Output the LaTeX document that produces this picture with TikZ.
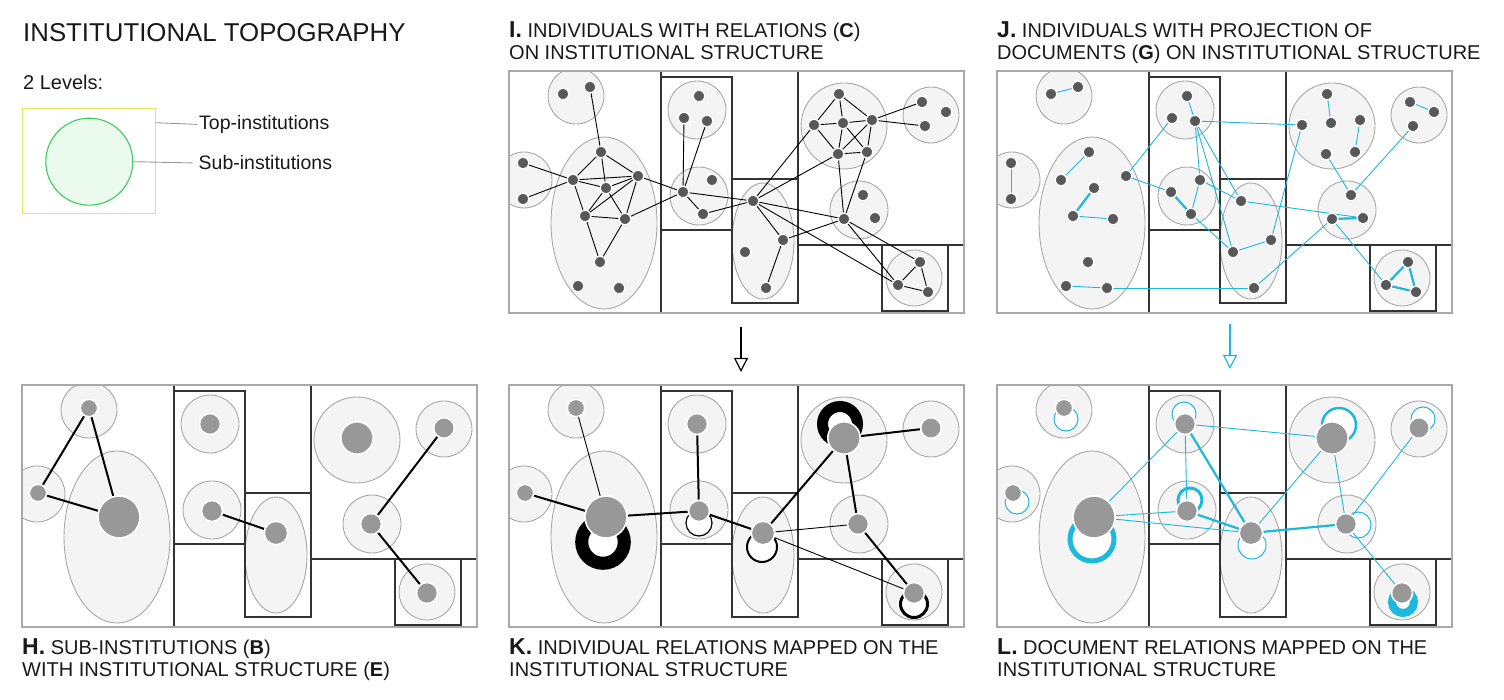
\documentclass[tikz,border=0pt]{standalone}
\usepackage{fontspec}
\setmainfont{Liberation Sans}
\usepackage{tikz}
\usetikzlibrary{arrows.meta,positioning}

\pgfdeclarelayer{back}
\pgfdeclarelayer{edges}
\pgfsetlayers{back,edges,main}

\definecolor{cyanrel}{RGB}{29,184,222}
\definecolor{subfill}{RGB}{244,244,244}
\definecolor{subline}{RGB}{168,168,168}
\definecolor{hubgrey}{RGB}{152,152,152}
\definecolor{persgrey}{RGB}{88,88,88}
\definecolor{legyellow}{RGB}{228,228,95}
\definecolor{leggreen}{RGB}{60,205,90}
\definecolor{legfill}{RGB}{234,250,236}

% the institutional structure, same in every panel
\newcommand{\instgrid}{%
  \begin{pgfonlayer}{back}
    \begin{scope}
      \clip (0,0) rectangle (455,242);
      \foreach \x/\y/\rad in {67/25/28,15/109/28,188/39/29,190/125/29,335/55/43,422/44/28,350/139/29,405/207/28}
        \draw[subinst] (\x,\y) circle (\rad);
      \draw[subinst] (95,152) ellipse (53 and 86);
      \draw[subinst] (254,170) ellipse (31 and 58);
    \end{scope}
    \draw[instline] (152,0) -- (152,242) (152,6) rectangle (223,159)
      (223,108) rectangle (289,232) (289,0) -- (289,108)
      (289,174) -- (455,174) (373,174) rectangle (439,240);
    \draw[outerbox] (0,0) rectangle (455,242);
  \end{pgfonlayer}}

% individuals
\newcommand{\people}{%
  \foreach \n/\x/\y in {a1/54/23,a2/81/16,b1/14/92,b2/14/128,
      m1/92/81,m2/64/109,m3/97/117,m4/129/105,m5/76/145,m6/116/148,m7/91/191,m8/69/215,m9/110/217,
      n1/190/25,n2/175/47,n3/198/50,q1/174/121,q2/203/109,q3/194/143,
      r1/244/130,r2/274/169,r3/236/181,r4/257/217,
      s1/330/23,s2/305/54,s3/334/52,s4/363/49,s5/329/83,s6/358/81,
      t1/413/31,t2/437/41,t3/416/55,u1/354/124,u2/335/148,u3/366/147,
      v1/411/191,v2/389/214,v3/419/221}
    \node[indiv] (\n) at (\x,\y) {};}

% sub-institutions as single nodes
\newcommand{\hubs}{%
  \foreach \n/\x/\y/\rad in {c1/67/23/8.7,c2/16/108/8.7,e1/97/132/21,c3/188/39/10.5,c4/190/126/10.5,
      e2/254/148/11.7,c5/335/53/16.2,c6/422/43/10.3,c7/349/139/10.5,c8/405/208/10.5}
    \node[hub,minimum size=2*\rad] (\n) at (\x,\y) {};}

\newcommand{\biglet}[1]{{\fontsize{23}{23}\selectfont\bfseries #1}}

\begin{document}
\begin{tikzpicture}[x=1pt,y=-1pt]

\tikzstyle{outerbox}=[draw=subline,line width=1.4pt]
\tikzstyle{instline}=[draw=black!80,line width=1.1pt]
\tikzstyle{subinst}=[draw=subline,fill=subfill,line width=0.9pt]
\tikzstyle{indiv}=[circle,fill=persgrey,draw=white,line width=1.3pt,inner sep=0pt,minimum size=11.5]
\tikzstyle{hub}=[circle,fill=hubgrey,draw=white,line width=1.6pt,inner sep=0pt]
\tikzstyle{rel}=[draw=black,line width=0.9pt]
\tikzstyle{relthick}=[draw=black,line width=2pt]
\tikzstyle{doc}=[draw=cyanrel,line width=0.9pt]
\tikzstyle{docthick}=[draw=cyanrel,line width=2.2pt]
\tikzstyle{kloop}=[draw=black,fill=white]
\tikzstyle{lloop}=[draw=cyanrel,fill=white]
\tikzstyle{lead}=[draw=black!40,line width=0.9pt]
\tikzstyle{ttl}=[anchor=base west,inner sep=0pt,text=black!90,font=\fontsize{20}{24}\selectfont]
\tikzstyle{lbl}=[anchor=base west,inner sep=1pt,text=black!90,font=\fontsize{19.5}{22}\selectfont]

\useasboundingbox (0,0) rectangle (1504,700);

% legend
\node[ttl,font=\fontsize{25.8}{30}\selectfont] (head) at (23,41.7) {INSTITUTIONAL TOPOGRAPHY};
\node[ttl] (levels) at (23,89.3) {2 Levels:};
\node[draw=legyellow,line width=1.2pt,minimum width=133,minimum height=105,inner sep=0pt] (topleg) at (89,161) {};
\node[circle,draw=leggreen,fill=legfill,line width=1.1pt,minimum size=87,inner sep=0pt] (subleg) at (89.3,161.7) {};
\node[lbl] (toplbl) at (198,129.5) {Top-institutions};
\node[lbl] (sublbl) at (197.5,170) {Sub-institutions};
\draw[lead,shorten >=1pt] ([yshift=-14.8pt]topleg.north east) -- (toplbl.west);
\draw[lead,shorten >=5pt] (subleg.east) -- (sublbl.west);

% I: individuals with relations
\begin{scope}[shift={(509,71)},name prefix=I-]
  \instgrid
  \people
  \begin{pgfonlayer}{edges}
    \foreach \a/\b in {a2/m1,b1/m2,b2/m2,m1/m2,m1/m3,m1/m4,m2/m3,m2/m4,m2/m5,m3/m4,m3/m5,m3/m6,
        m4/m5,m4/m6,m4/q1,m5/m6,m5/m7,m6/m7,m6/q1,n2/q1,n3/q1,q1/q3,q1/r1,q3/r1,r1/r2,r2/r4,
        r1/s2,r1/s5,r1/u2,r1/v2,r2/u2,s1/s2,s1/s3,s1/s4,s2/s3,s2/s5,s3/s4,s3/s5,s3/s6,s4/s5,
        s4/s6,s5/s6,s4/t1,s4/t3,s5/u2,s6/u2,u2/v1,u2/v2,v1/v2,v1/v3,v2/v3}
      \draw[rel] (\a) -- (\b);
  \end{pgfonlayer}
\end{scope}

% J: individuals with documents
\begin{scope}[shift={(997,71)},name prefix=J-]
  \instgrid
  \people
  \begin{pgfonlayer}{edges}
    \foreach \a/\b in {a1/a2,b1/b2,m1/m2,m5/m6,m8/m9,m9/r4,m4/n2,m4/q1,n1/n3,n3/s2,n3/q2,n3/r3,
        n3/r1,q2/q3,q2/r1,q3/r3,r1/u3,r3/r2,r2/s2,r4/u2,s1/s3,s4/s6,s5/u1,t1/t2,t3/u1,u2/v2}
      \draw[doc] (\a) -- (\b);
    \foreach \a/\b in {m3/m5,q1/q3,u2/u3,v1/v2,v1/v3,v2/v3}
      \draw[docthick] (\a) -- (\b);
  \end{pgfonlayer}
\end{scope}

% H: sub-institutions
\begin{scope}[shift={(22,385)},name prefix=H-]
  \instgrid
  \hubs
  \begin{pgfonlayer}{edges}
    \foreach \a/\b in {c1/c2,c1/e1,c2/e1,c4/e2,c6/c7,c7/c8}
      \draw[relthick] (\a) -- (\b);
  \end{pgfonlayer}
\end{scope}

% K: individual relations mapped
\begin{scope}[shift={(509,385)},name prefix=K-]
  \instgrid
  \hubs
  \begin{pgfonlayer}{edges}
    \draw[kloop,line width=13pt] (94,157) circle (21.3);
    \draw[kloop,line width=11pt] (331,39) circle (17.5);
    \draw[kloop,line width=1.2pt] (190,138) circle (13);
    \draw[kloop,line width=2pt] (253,162) circle (15);
    \draw[kloop,line width=3pt] (405,219) circle (13.5);
    \foreach \a/\b in {c2/e1,e1/c4,c3/c4,c4/e2,e2/c5,c5/c6,c5/c7,c7/c8}
      \draw[relthick] (\a) -- (\b);
    \foreach \a/\b in {c1/e1,e2/c7,e2/c8}
      \draw[rel] (\a) -- (\b);
  \end{pgfonlayer}
\end{scope}

% L: document relations mapped
\begin{scope}[shift={(997,385)},name prefix=L-]
  \instgrid
  \hubs
  \begin{pgfonlayer}{edges}
    \draw[lloop,line width=1pt] (69,34) circle (12);
    \draw[lloop,line width=1pt] (20,117) circle (12);
    \draw[lloop,line width=5pt] (95,154) circle (22);
    \draw[lloop,line width=1pt] (187,29) circle (12);
    \draw[lloop,line width=3pt] (193,115) circle (12);
    \draw[lloop,line width=1pt] (255,160) circle (14);
    \draw[lloop,line width=2.5pt] (342,40) circle (17);
    \draw[lloop,line width=1pt] (426,34) circle (12);
    \draw[lloop,line width=1pt] (361,140) circle (13);
    \draw[lloop,line width=8pt] (406,217) circle (11);
    \foreach \a/\b in {e1/c3,e1/c4,e1/e2,c3/c4,c3/c5,e2/c5,c5/c7,c6/c7,c7/c8}
      \draw[doc] (\a) -- (\b);
    \foreach \a/\b in {c3/e2,c4/e2,e2/c7}
      \draw[docthick] (\a) -- (\b);
  \end{pgfonlayer}
\end{scope}

% mapping arrows
\coordinate (Iout) at (741,327);
\coordinate (Kin) at (741,372);
\coordinate (Jout) at (1230,324);
\coordinate (Lin) at (1230,369);
\draw[line width=1.2pt,-{Triangle[open,length=14pt,width=14pt]}] (Iout) -- (Kin);
\draw[cyanrel,line width=1.2pt,-{Triangle[open,length=14pt,width=14pt]}] (Jout) -- (Lin);

% panel titles
\node[ttl] (Ittl) at (509,38) {\biglet{I.} INDIVIDUALS WITH RELATIONS (\textbf{C})};
\node[ttl] (Ittl2) at ([yshift=-22pt]Ittl.base west) {ON INSTITUTIONAL STRUCTURE};
\node[ttl] (Jttl) at (997,38) {\biglet{J.} INDIVIDUALS WITH PROJECTION OF};
\node[ttl] (Jttl2) at ([yshift=-22pt]Jttl.base west) {DOCUMENTS (\textbf{G}) ON INSTITUTIONAL STRUCTURE};
\node[ttl] (Httl) at (22,654) {\biglet{H.} SUB-INSTITUTIONS (\textbf{B})};
\node[ttl] (Httl2) at ([yshift=-22pt]Httl.base west) {WITH INSTITUTIONAL STRUCTURE (\textbf{E})};
\node[ttl] (Kttl) at (509,654) {\biglet{K.} INDIVIDUAL RELATIONS MAPPED ON THE};
\node[ttl] (Kttl2) at ([yshift=-22pt]Kttl.base west) {INSTITUTIONAL STRUCTURE};
\node[ttl] (Lttl) at (997,654) {\biglet{L.} DOCUMENT RELATIONS MAPPED ON THE};
\node[ttl] (Lttl2) at ([yshift=-22pt]Lttl.base west) {INSTITUTIONAL STRUCTURE};

\end{tikzpicture}
\end{document}
